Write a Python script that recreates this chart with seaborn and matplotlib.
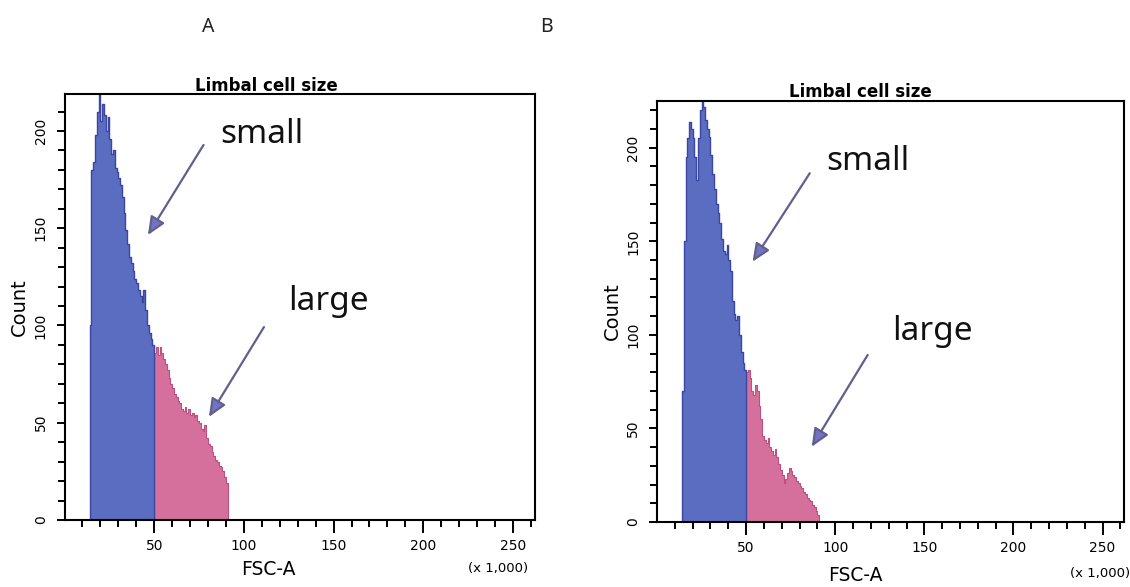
import numpy as np
import matplotlib
matplotlib.use("Agg")
import matplotlib.pyplot as plt
import seaborn as sns

# FSC-A channels in thousands, one histogram bin per 1,000 units
small_bins = np.arange(14, 50)
large_bins = np.arange(50, 91)

# Panel A counts
counts_a_small = [100, 180, 184, 198, 210, 222, 205, 214, 208, 200, 207, 196,
                  188, 190, 181, 179, 176, 172, 166, 158, 149, 142, 135, 132,
                  128, 124, 122, 118, 115, 112, 118, 108, 100, 96, 93, 90]
counts_a_large = [86, 89, 85, 89, 86, 83, 80, 77, 73, 70, 68, 65, 63, 61, 60,
                  57, 56, 58, 55, 57, 54, 55, 53, 54, 51, 50, 47, 46, 49, 42,
                  39, 38, 35, 33, 31, 30, 28, 27, 25, 22, 19]

# Panel B counts
counts_b_small = [70, 150, 195, 205, 214, 210, 205, 195, 183, 205, 220, 226,
                  222, 215, 210, 206, 196, 186, 178, 170, 165, 160, 151, 145,
                  143, 148, 140, 134, 118, 111, 108, 110, 100, 91, 85, 81]
counts_b_large = [80, 81, 77, 70, 68, 73, 70, 62, 55, 46, 44, 42, 45, 40, 38,
                  36, 39, 35, 31, 28, 25, 21, 23, 26, 29, 27, 25, 24, 22, 21,
                  19, 18, 16, 15, 13, 12, 11, 9, 8, 6, 4]

panel_letters = ["A", "B"]
panel_title = "Limbal cell size"
x_label = "FSC-A"
y_label = "Count"
x_scale_note = "(x 1,000)"
x_major = [50, 100, 150, 200, 250]
y_major = [0, 50, 100, 150, 200]
gate_labels = ["small", "large"]

BLUE = "#5b6dc0"
BLUE_EDGE = "#3a46a2"
PINK = "#d4709b"
PINK_EDGE = "#bf4f80"
ARROW_SHAFT = "#606090"
ARROW_HEAD = "#7373c4"

sns.set_style("ticks")
plt.rcParams["font.family"] = ["DejaVu Sans"]
plt.rcParams["text.color"] = "black"
plt.rcParams["axes.labelcolor"] = "black"
plt.rcParams["xtick.color"] = "black"
plt.rcParams["ytick.color"] = "black"

fig = plt.figure(figsize=(11.30, 5.87), dpi=100)

W, H = 1130, 587


def px_axes(left, top, right, bottom):
    return fig.add_axes([left / W, 1 - bottom / H, (right - left) / W, (bottom - top) / H])


def draw_panel(ax, small_counts, large_counts, ymax, ann):
    sns.histplot(x=large_bins, weights=large_counts, binwidth=1, binrange=(50, 91),
                 element="step", fill=True, color=PINK, alpha=1,
                 edgecolor=PINK_EDGE, linewidth=0.8, ax=ax)
    sns.histplot(x=small_bins, weights=small_counts, binwidth=1, binrange=(14, 50),
                 element="step", fill=True, color=BLUE, alpha=1,
                 edgecolor=BLUE_EDGE, linewidth=1.0, ax=ax)
    ax.set_xlim(0, 262)
    ax.set_ylim(0, ymax)

    ax.set_xticks(x_major)
    ax.set_xticks(np.arange(10, 261, 10), minor=True)
    ax.set_yticks(y_major)
    ax.set_yticks(np.arange(0, ymax, 10), minor=True)
    ax.set_xticklabels([str(v) for v in x_major], fontsize=10, color="black")
    ax.set_yticklabels([str(v) for v in y_major], fontsize=10, rotation=90,
                       va="center", color="black")
    ax.tick_params(axis="x", which="major", length=9, width=1.4, pad=4.5,
                   direction="out", colors="black")
    ax.tick_params(axis="x", which="minor", length=5, width=1.4, direction="out",
                   colors="black")
    ax.tick_params(axis="y", which="major", length=6, width=1.4, pad=6,
                   direction="out", colors="black")
    ax.tick_params(axis="y", which="minor", length=5, width=1.4, direction="out",
                   colors="black")

    for s in ax.spines.values():
        s.set_visible(True)
        s.set_linewidth(1.5)
        s.set_color("black")

    ax.set_ylabel(y_label, fontsize=14, color="black")
    ax.yaxis.set_label_coords(ann["ylab_x"], 0.5)
    ax.set_xlabel(x_label, fontsize=13.5, color="black")
    ax.xaxis.set_label_coords(ann["xlab"][0], ann["xlab"][1])

    ax.text(ann["title_x"], ann["title_y"], panel_title, transform=ax.transAxes,
            ha="center", va="baseline", fontsize=12, fontweight="bold", color="black")
    ax.text(ann["note"][0], ann["note"][1], x_scale_note, transform=ax.transAxes,
            ha="center", va="center", fontsize=9.5, color="black")

    for label, (tx, ty), (tail, tip) in zip(gate_labels, ann["texts"], ann["arrows"]):
        ax.text(tx, ty, label, ha="center", va="baseline", fontsize=24,
                family=["Noto Sans", "DejaVu Sans"], color="#111111")
        ax.annotate("", xy=tip, xytext=tail,
                    arrowprops=dict(arrowstyle="-|>,head_length=0.55,head_width=0.24",
                                    mutation_scale=20, lw=1.6, fc=ARROW_HEAD,
                                    ec=ARROW_SHAFT, shrinkA=0, shrinkB=0))


ax_a = px_axes(64.5, 94, 534.5, 520)
draw_panel(ax_a, counts_a_small, counts_a_large, 219, dict(
    ylab_x=-0.075, xlab=(0.433, -0.094), title_x=0.429, title_y=1.008,
    note=(0.923, -0.115),
    texts=[(110, 194), (147, 108)],
    arrows=[((77.5, 192.8), (46.5, 146.5)), ((111.2, 99.2), (80.5, 53))],
))

ax_b = px_axes(657, 101, 1124, 522)
draw_panel(ax_b, counts_b_small, counts_b_large, 225, dict(
    ylab_x=-0.075, xlab=(0.424, -0.104), title_x=0.435, title_y=1.01,
    note=(0.949, -0.122),
    texts=[(118.4, 188), (154.7, 97.3)],
    arrows=[((85.7, 186.4), (53.6, 139.1)), ((118.2, 89.3), (86.8, 40.2))],
))

for letter, fx in zip(panel_letters, [208 / W, 546 / W]):
    fig.text(fx, 1 - 27 / H, letter, ha="center", va="center", fontsize=14,
             family=["Noto Sans", "DejaVu Sans"], color="#222222")

fig.savefig("out.png", dpi=100)
